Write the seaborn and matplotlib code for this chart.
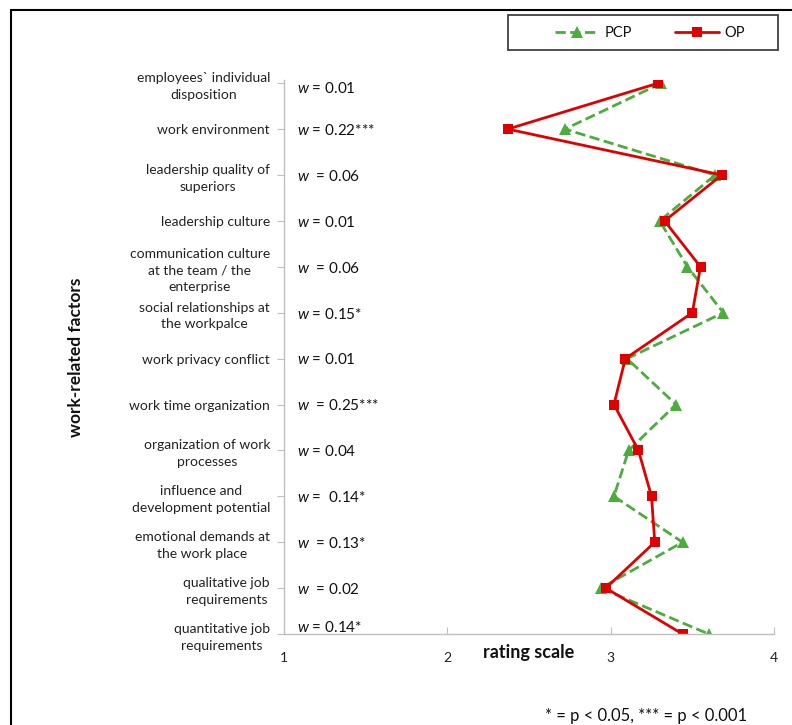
import numpy as np
import pandas as pd
import matplotlib
matplotlib.use("Agg")
import matplotlib.pyplot as plt
import seaborn as sns
from matplotlib.lines import Line2D
from matplotlib.patches import Rectangle

# Faktoren (von oben nach unten)
fatores = [
    "employees` individual\ndisposition",
    "work environment",
    "leadership quality of\nsuperiors",
    "leadership culture",
    "communication culture\nat the team / the\nenterprise",
    "social relationships at\nthe workpalce",
    "work privacy conflict",
    "work time organization",
    "organization of work\nprocesses",
    "influence and\ndevelopment potential",
    "emotional demands at\nthe work place",
    "qualitative job\nrequirements",
    "quantitative job\nrequirements",
]

# Mittelwerte der Bewertung
pcp = [3.31, 2.72, 3.64, 3.30, 3.47, 3.69, 3.10, 3.40, 3.11, 3.02, 3.44, 2.94, 3.60]
op = [3.29, 2.37, 3.68, 3.33, 3.55, 3.50, 3.09, 3.02, 3.17, 3.25, 3.27, 2.97, 3.44]

# Effektstärken
w_texto = [
    "$w$ = 0.01", "$w$ = 0.22***", "$w$  = 0.06", "$w$ = 0.01", "$w$  = 0.06",
    "$w$ = 0.15*", "$w$ = 0.01", "$w$  = 0.25***", "$w$ = 0.04", "$w$ =  0.14*",
    "$w$  = 0.13*", "$w$  = 0.02", "$w$ = 0.14*",
]

xticks = [1, 2, 3, 4]

sns.set_theme(style="white")
plt.rcParams["font.family"] = ["Lato", "DejaVu Sans"]
plt.rcParams["mathtext.fontset"] = "custom"
plt.rcParams["mathtext.it"] = "Lato:italic"
plt.rcParams["mathtext.rm"] = "Lato"

pos = np.arange(len(fatores))
df = pd.DataFrame({"pos": pos, "PCP": pcp, "OP": op})

fig = plt.figure(figsize=(7.92, 7.25), dpi=100)
ax = fig.add_axes([284 / 792, 1 - 634 / 725, 490 / 792, 554 / 725])

sns.lineplot(data=df, x="PCP", y="pos", orient="y", sort=False, estimator=None,
             ax=ax, color="#4aad3c", linestyle="--", linewidth=2.0,
             marker="^", markersize=8.5, markeredgewidth=0, legend=False)
sns.lineplot(data=df, x="OP", y="pos", orient="y", sort=False, estimator=None,
             ax=ax, color="#e00000", linestyle="-", linewidth=2.0,
             marker="s", markersize=7.5, markeredgewidth=0, legend=False)

ax.set_xlim(1, 4)
ax.set_ylim(len(fatores) - 1, -0.07)
ax.set_xticks(xticks)
ax.set_xticklabels([str(t) for t in xticks], fontsize=10, color="#222222")
ax.set_yticks(pos)
ax.set_yticklabels(fatores, fontsize=10, color="#222222", multialignment="center",
                   linespacing=1.45)

ax.tick_params(axis="y", which="both", left=True, length=5, width=0.8, color="#bfbfbf", pad=5)
ax.tick_params(axis="x", which="both", bottom=True, direction="in", length=5, width=0.8,
               color="#bfbfbf", pad=13)

for lado in ["top", "right"]:
    ax.spines[lado].set_visible(False)
for lado in ["left", "bottom"]:
    ax.spines[lado].set_color("#bfbfbf")
    ax.spines[lado].set_linewidth(1.0)

ax.set_xlabel("")
ax.set_ylabel("work-related factors", fontsize=12.5, fontweight="bold", color="#111111")
ax.yaxis.set_label_coords((84 - 284) / 490, 0.5)
ax.text(0.5, -0.033, "rating scale", transform=ax.transAxes, ha="center", va="center",
        fontsize=13, fontweight="bold", color="#111111")

for i, t in enumerate(w_texto):
    dy = -0.15 if i == len(w_texto) - 1 else (0.12 if i == 0 else 0.03)
    ax.text(1.08, pos[i] + dy, t, fontsize=11, ha="left", va="center", color="#111111")

# Legende
handles = [
    Line2D([], [], color="#4aad3c", linestyle="--", linewidth=2.0, marker="^",
           markersize=8.5, markeredgewidth=0),
    Line2D([], [], color="#e00000", linestyle="-", linewidth=2.0, marker="s",
           markersize=7.5, markeredgewidth=0),
]
leg = fig.legend(handles, ["PCP", "OP"], loc="center", ncol=2,
                 bbox_to_anchor=(650 / 792, 1 - 33 / 725), frameon=False,
                 fontsize=10.5, handlelength=3.0, columnspacing=3.0,
                 handletextpad=0.35, borderaxespad=0, borderpad=0)
for txt in leg.get_texts():
    txt.set_color("#111111")
fig.add_artist(Rectangle((508 / 792, 1 - 50 / 725), 270 / 792, 35 / 725,
                         transform=fig.transFigure, fill=False,
                         edgecolor="#404040", linewidth=1.3))

fig.text(747 / 792, 1 - 716 / 725, "* = p < 0.05, *** = p < 0.001", ha="right",
         va="center", fontsize=12, color="#111111")

# Rahmen
fig.add_artist(Line2D([11 / 792, 11 / 792], [0, 1 - 10 / 725], transform=fig.transFigure,
                      color="black", linewidth=1.5))
fig.add_artist(Line2D([11 / 792, 1], [1 - 10 / 725, 1 - 10 / 725], transform=fig.transFigure,
                      color="black", linewidth=1.5))

fig.savefig("out.png", dpi=100)
